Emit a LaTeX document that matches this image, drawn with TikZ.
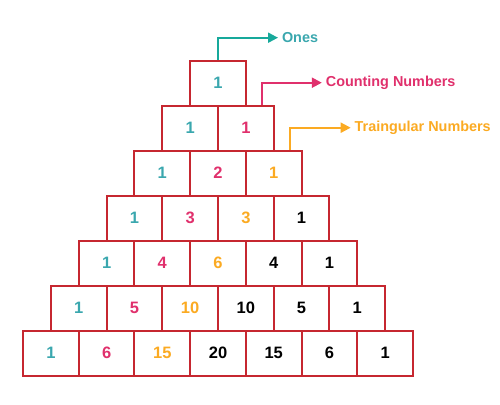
\documentclass[tikz,border=0pt]{standalone}
\usepackage{fontspec}
\setmainfont{Liberation Sans}
\usetikzlibrary{arrows.meta}
\definecolor{boxred}{HTML}{C62730}
\definecolor{onesteal}{HTML}{3AA7AE}
\definecolor{onesline}{HTML}{17A99B}
\definecolor{countpink}{HTML}{E0306C}
\definecolor{triorange}{HTML}{FBAA22}
\colorlet{num0}{onesteal}
\colorlet{num1}{countpink}
\colorlet{num2}{triorange}
\colorlet{num3}{black}
\colorlet{num4}{black}
\colorlet{num5}{black}
\colorlet{num6}{black}

\begin{document}
\begin{tikzpicture}[
    x=1pt,y=-1pt,
    cell/.style={draw=boxred,line width=2pt,minimum width=55.7pt,minimum height=45pt,inner sep=0pt,font=\fontsize{16.5}{16.5}\selectfont\bfseries},
    pointer/.style={line width=2pt,-{Triangle[length=10pt,width=10pt]}},
    lbl/.style={anchor=west,inner sep=3pt,font=\fontsize{14.4}{14.4}\selectfont\bfseries},
]
    \useasboundingbox (0,0) rectangle (500,404);
    \foreach \r/\vals in {1/{1},2/{1,1},3/{1,2,1},4/{1,3,3,1},5/{1,4,6,4,1},6/{1,5,10,10,5,1},7/{1,6,15,20,15,6,1}} {
        \foreach \v [count=\k from 0] in \vals {
            \node[cell,text=num\k] (c-\r-\k) at ({218+55.7*(\k-(\r-1)/2)},{38.2+45*\r}) {\v};
        }
    }
    \draw[pointer,onesline] (c-1-0.north) -- ++(0,-22) -- ++(60,0) node[lbl,text=onesteal] {Ones};
    \draw[pointer,countpink] ([xshift=16pt]c-2-1.north) -- ++(0,-22) -- ++(60,0) node[lbl] {Counting Numbers};
    \draw[pointer,triorange] ([xshift=16.3pt]c-3-2.north) -- ++(0,-22) -- ++(60.7,0) node[lbl] {Traingular Numbers};
\end{tikzpicture}
\end{document}
